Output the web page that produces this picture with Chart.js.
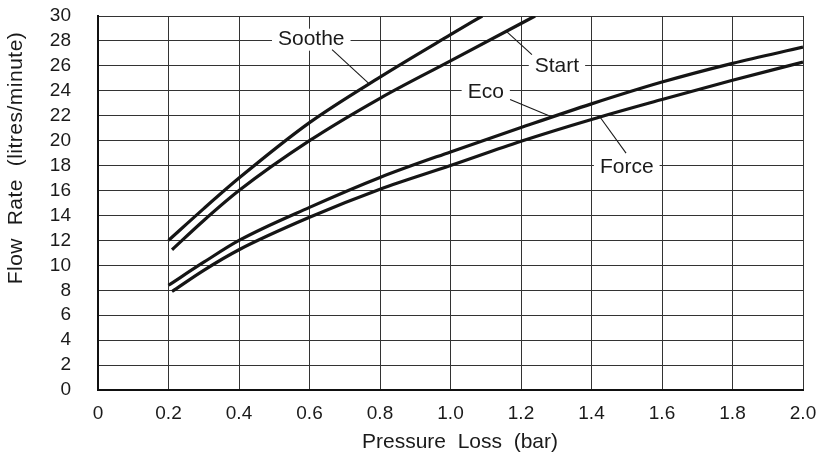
<!DOCTYPE html>
<html>
<head>
<meta charset="utf-8">
<script src="https://cdn.jsdelivr.net/npm/chart.js@4.4.1/dist/chart.umd.min.js"></script>
<style>
  html, body { margin: 0; padding: 0; background: #fff; }
  #wrap { width: 826px; height: 454px; }
</style>
</head>
<body>
<div id="wrap"><canvas id="flowChart" width="826" height="454"></canvas></div>
<script>
// --- data ---
const xTicks = [0, 0.2, 0.4, 0.6, 0.8, 1.0, 1.2, 1.4, 1.6, 1.8, 2.0];
const yTicks = [0, 2, 4, 6, 8, 10, 12, 14, 16, 18, 20, 22, 24, 26, 28, 30];

const sootheX = [0.2, 0.3, 0.4, 0.6, 0.8, 1.0, 1.09];
const sootheY = [12.0, 14.55, 17.0, 21.45, 25.1, 28.5, 30.0];

const startX = [0.21, 0.3, 0.4, 0.6, 0.8, 1.0, 1.2, 1.24];
const startY = [11.25, 13.6, 16.0, 20.0, 23.4, 26.4, 29.4, 30.0];

const ecoX = [0.2, 0.3, 0.4, 0.6, 0.8, 1.0, 1.2, 1.4, 1.6, 1.8, 2.0];
const ecoY = [8.4, 10.25, 12.0, 14.65, 17.05, 19.1, 21.05, 22.95, 24.7, 26.2, 27.5];

const forceX = [0.21, 0.3, 0.4, 0.6, 0.8, 1.0, 1.2, 1.4, 1.6, 1.8, 2.0];
const forceY = [7.9, 9.6, 11.25, 13.85, 16.1, 18.0, 19.95, 21.7, 23.3, 24.85, 26.3];

const seriesNames = ['Soothe', 'Start', 'Eco', 'Force'];

// callout labels (in data units) with leader lines to their curve
const callouts = [
    { text: 'Soothe', at: [0.605, 28.1], from: [0.664, 27.3], to: [0.768, 24.6] },
    { text: 'Start',  at: [1.302, 26],   from: [1.231, 26.9], to: [1.157, 28.8] },
    { text: 'Eco',    at: [1.100, 23.9], from: [1.169, 23.3], to: [1.288, 21.9] },
    { text: 'Force',  at: [1.500, 17.9], from: [1.498, 19.0], to: [1.424, 21.9] }
];

const FONT = '"Liberation Sans", Arial, Helvetica, sans-serif';

function pts(xs, ys) {
    return xs.map((x, i) => ({ x: x, y: ys[i] }));
}

const calloutPlugin = {
    id: 'callouts',
    afterDatasetsDraw(chart) {
        const ctx = chart.ctx;
        const sx = chart.scales.x, sy = chart.scales.y;
        ctx.save();
        ctx.font = '21px ' + FONT;
        ctx.textAlign = 'center';
        ctx.textBaseline = 'middle';
        callouts.forEach(c => {
            const px = sx.getPixelForValue(c.at[0]);
            const py = sy.getPixelForValue(c.at[1]);
            const w = ctx.measureText(c.text).width;
            ctx.fillStyle = '#fff';
            ctx.fillRect(px - w / 2 - 6, py - 11, w + 12, 22);
            ctx.fillStyle = '#1a1a1a';
            ctx.fillText(c.text, px, py);
            ctx.strokeStyle = '#1a1a1a';
            ctx.lineWidth = 1.1;
            ctx.beginPath();
            ctx.moveTo(sx.getPixelForValue(c.from[0]), sy.getPixelForValue(c.from[1]));
            ctx.lineTo(sx.getPixelForValue(c.to[0]), sy.getPixelForValue(c.to[1]));
            ctx.stroke();
        });
        ctx.restore();
    }
};

const axisTitlePlugin = {
    id: 'axisTitles',
    afterDraw(chart) {
        const ctx = chart.ctx;
        ctx.save();
        ctx.fillStyle = '#1a1a1a';
        ctx.font = '21px ' + FONT;
        ctx.textAlign = 'center';
        ctx.textBaseline = 'middle';
        ctx.fillText('Pressure  Loss  (bar)', 460, 442);
        ctx.translate(16, 158);
        ctx.rotate(-Math.PI / 2);
        ctx.letterSpacing = '0.5px';
        ctx.fillText('Flow  Rate  (litres/minute)', 0, 0);
        ctx.restore();
    }
};

new Chart(document.getElementById('flowChart'), {
    type: 'line',
    data: {
        datasets: [
            { label: seriesNames[0], data: pts(sootheX, sootheY) },
            { label: seriesNames[1], data: pts(startX, startY) },
            { label: seriesNames[2], data: pts(ecoX, ecoY) },
            { label: seriesNames[3], data: pts(forceX, forceY) }
        ].map(d => Object.assign(d, {
            borderColor: '#151515',
            borderWidth: 3.2,
            pointRadius: 0,
            fill: false,
            cubicInterpolationMode: 'monotone'
        }))
    },
    options: {
        responsive: false,
        animation: false,
        layout: { padding: { top: 16, right: 23, left: 0, bottom: 0 } },
        plugins: {
            legend: { display: false },
            tooltip: { enabled: false }
        },
        scales: {
            x: {
                type: 'linear',
                min: 0,
                max: 2,
                afterFit: s => { s.height = 64; s.paddingLeft = 0; s.paddingRight = 0; },
                afterBuildTicks: s => { s.ticks = xTicks.map(v => ({ value: v })); },
                ticks: {
                    autoSkip: false,
                    maxRotation: 0,
                    padding: 12,
                    color: '#1a1a1a',
                    font: { size: 19, family: FONT },
                    callback: v => v === 0 ? '0' : v.toFixed(1)
                },
                grid: { color: '#333', lineWidth: 1, drawTicks: false },
                border: { color: '#111', width: 2 }
            },
            y: {
                type: 'linear',
                min: 0,
                max: 30,
                afterFit: s => { s.width = 98; s.paddingTop = 0; s.paddingBottom = 0; },
                afterBuildTicks: s => { s.ticks = yTicks.map(v => ({ value: v })); },
                ticks: {
                    autoSkip: false,
                    padding: 27,
                    color: '#1a1a1a',
                    font: { size: 19, family: FONT },
                    callback: v => String(v)
                },
                grid: { color: '#333', lineWidth: 1, drawTicks: false },
                border: { color: '#111', width: 2 }
            }
        }
    },
    plugins: [calloutPlugin, axisTitlePlugin]
});
</script>
</body>
</html>
